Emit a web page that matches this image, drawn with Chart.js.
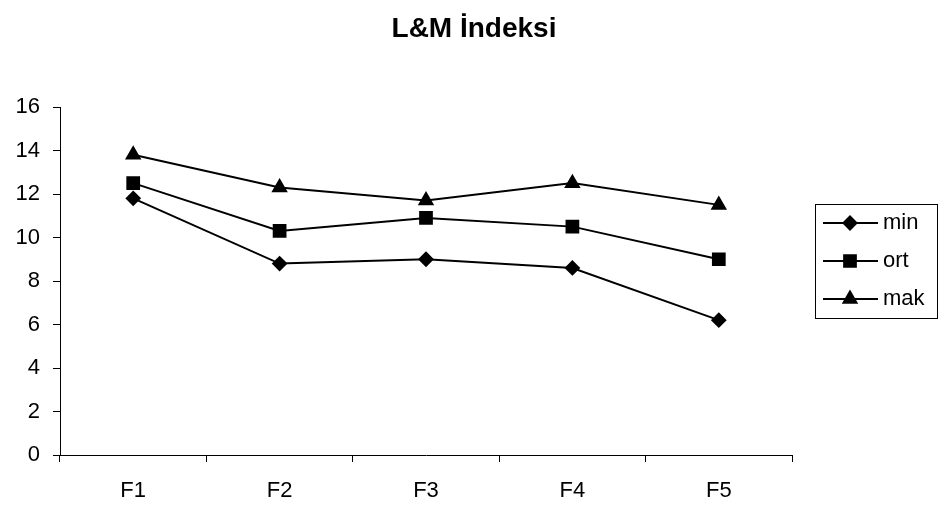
<!DOCTYPE html>
<html><head><meta charset="utf-8">
<script src="https://cdn.jsdelivr.net/npm/chart.js@4.4.1/dist/chart.umd.min.js"></script>
<style>html,body{margin:0;padding:0;background:#fff}#wrap{width:939px;height:506px}</style>
</head><body><div id="wrap"><canvas id="c" width="939" height="506"></canvas></div>
<script>
const categories = ['F1','F2','F3','F4','F5'];
const minValues = [11.8, 8.8, 9.0, 8.6, 6.2];
const ortValues = [12.5, 10.3, 10.9, 10.5, 9.0];
const makValues = [13.8, 12.3, 11.7, 12.5, 11.5];
const seriesNames = ['min','ort','mak'];
const titleText = 'L&M İndeksi';
const FONT = "'Liberation Sans', Arial, sans-serif";

const titlePlugin = {
  id: 'centerTitle',
  afterDraw(chart) {
    const ctx = chart.ctx;
    ctx.save();
    ctx.font = 'bold 28px ' + FONT;
    ctx.fillStyle = '#000';
    ctx.textAlign = 'center';
    ctx.textBaseline = 'alphabetic';
    ctx.fillText(titleText, 474, 37);
    ctx.restore();
  }
};

const legendPlugin = {
  id: 'boxLegend',
  afterDraw(chart) {
    const ctx = chart.ctx;
    const x0 = 815, y0 = 204, w = 124, h = 114;
    ctx.save();
    ctx.strokeStyle = '#000'; ctx.lineWidth = 1;
    ctx.strokeRect(x0 + 0.5, y0 + 0.5, w - 2, h);
    ctx.font = '22px ' + FONT;
    ctx.textBaseline = 'middle';
    chart.data.datasets.forEach((ds, i) => {
      const y = y0 + 19 + i * 38;
      ctx.beginPath(); ctx.lineWidth = 2; ctx.strokeStyle = '#000';
      ctx.moveTo(823, y); ctx.lineTo(878, y); ctx.stroke();
      ctx.fillStyle = '#000';
      Chart.helpers.drawPoint(ctx, {pointStyle: ds.pointStyle, radius: ds.pointRadius, borderWidth: 1}, 850, y);
      ctx.fillStyle = '#000';
      ctx.fillText(ds.label, 883, y);
    });
    ctx.restore();
  }
};

const mk = (label, data, style, r) => ({
  label, data, borderColor: '#000', backgroundColor: '#000', borderWidth: 2,
  pointStyle: style, pointRadius: r, pointHoverRadius: r, pointBackgroundColor: '#000',
  pointBorderColor: '#000', tension: 0, fill: false
});

new Chart(document.getElementById('c'), {
  type: 'line',
  data: {
    labels: categories,
    datasets: [
      mk(seriesNames[0], minValues, 'rectRot', 6.5),
      mk(seriesNames[1], ortValues, 'rect', 8.3),
      mk(seriesNames[2], makValues, 'triangle', 7.5)
    ]
  },
  options: {
    responsive: false, animation: false,
    layout: { padding: { top: 107, right: 147, left: 0, bottom: 0 } },
    plugins: {
      legend: { display: false },
      tooltip: { enabled: false },
      title: { display: false }
    },
    scales: {
      x: {
        offset: true,
        grid: { display: true, offset: true, drawOnChartArea: false, drawTicks: true, tickLength: 7, color: '#000' },
        border: { color: '#000', width: 1 },
        ticks: { color: '#000', font: { family: FONT, size: 22 }, padding: 16, maxRotation: 0 },
        afterFit(s) { s.height = 51; }
      },
      y: {
        min: 0, max: 16,
        grid: { display: true, drawOnChartArea: false, drawTicks: true, tickLength: 7, color: '#000' },
        border: { color: '#000', width: 1 },
        ticks: { stepSize: 2, color: '#000', font: { family: FONT, size: 22 }, padding: 13 },
        afterFit(s) { s.width = 60; }
      }
    }
  },
  plugins: [legendPlugin, titlePlugin]
});
</script></body></html>
